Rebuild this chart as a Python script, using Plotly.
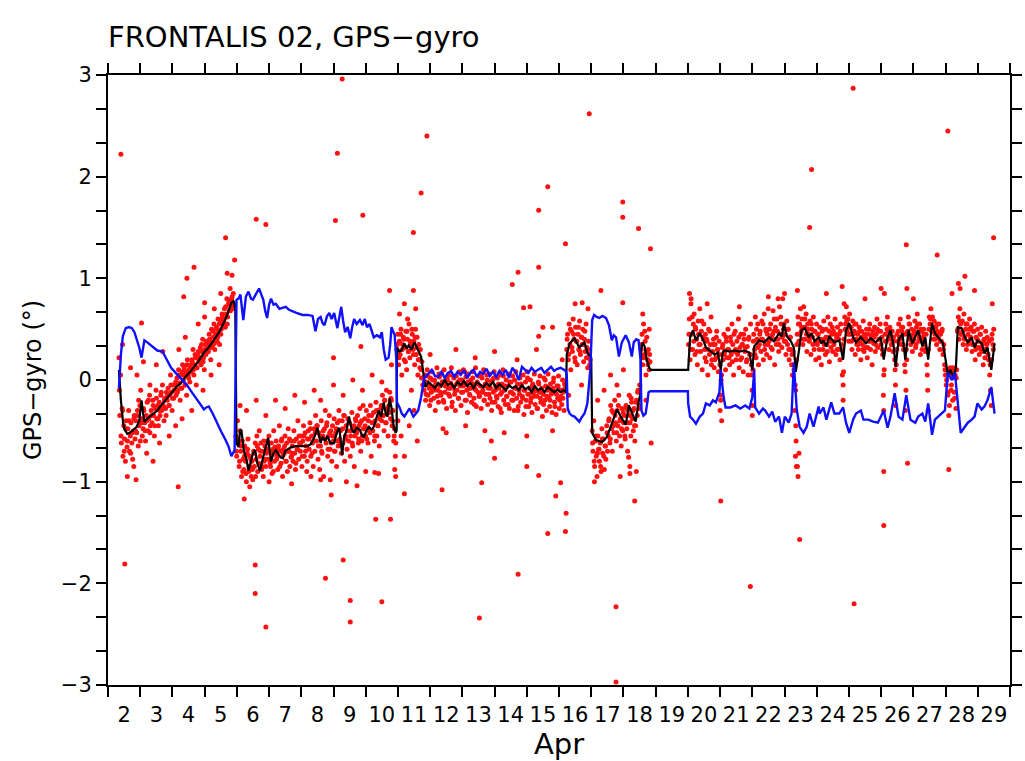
import numpy as np
import pandas as pd
import plotly.graph_objects as go

# ---------------- data (time in day-of-April, values in degrees) ----------------
black_t = [2.34, 2.40, 2.47, 2.52, 2.60, 2.67, 2.75, 2.89, 2.97, 3.04, 3.09, 3.13, 3.22, 3.29, 3.40, 3.53,
           3.65, 3.84, 3.95, 4.05, 4.15, 4.27, 4.40, 4.55, 4.67, 4.80, 4.98, 5.10, 5.28, 5.45, 5.59, 5.70,
           5.83, 5.90, 5.95,
           5.97, 5.99, 6.05, 6.10, 6.14, 6.22, 6.30, 6.36, 6.42, 6.50, 6.57, 6.62, 6.67, 6.72, 6.80, 6.88,
           6.97, 7.06, 7.14, 7.21, 7.28, 7.35, 7.43, 7.50, 7.58, 7.70, 7.83, 8.00, 8.20, 8.30, 8.41, 8.50,
           8.60, 8.66, 8.74, 8.81, 8.90, 9.02, 9.10, 9.18, 9.27, 9.33, 9.40, 9.48, 9.56, 9.64, 9.72, 9.82,
           9.88, 9.94, 10.02, 10.10, 10.18, 10.25, 10.33, 10.40, 10.48, 10.56, 10.62, 10.68, 10.74, 10.80,
           10.87, 10.93, 10.96,
           10.97, 11.04, 11.11, 11.20, 11.28, 11.33, 11.42, 11.51, 11.58, 11.63, 11.72, 11.78, 11.82,
           11.85, 11.95, 12.05, 12.15, 12.25, 12.35, 12.45, 12.55, 12.65, 12.75, 12.85, 12.95, 13.05, 13.15,
           13.25, 13.35, 13.45, 13.55, 13.65, 13.75, 13.85, 13.95, 14.05, 14.15, 14.25, 14.35, 14.45, 14.55,
           14.65, 14.75, 14.85, 14.95, 15.05, 15.15, 15.25, 15.35, 15.45, 15.55, 15.65, 15.75, 15.85, 15.95,
           16.05, 16.15, 16.22,
           16.24, 16.33, 16.48, 16.63, 16.79, 16.88, 17.00,
           17.03, 17.15, 17.34, 17.49, 17.64, 17.80, 17.92, 18.07, 18.17, 18.26, 18.38, 18.47, 18.53,
           18.55, 18.60, 18.66, 18.72, 18.80, 18.84, 20.00,
           20.01, 20.07, 20.16, 20.25, 20.37, 20.47, 20.56, 20.68, 20.83, 20.93, 21.02, 21.08, 21.14, 21.29,
           21.45, 21.60, 21.75, 21.91, 22.00, 22.06, 22.21, 22.37, 22.52, 22.67, 22.83, 22.92, 22.98, 23.07,
           23.20, 23.29, 23.35, 23.44, 23.53, 23.63, 23.75, 23.84, 23.93, 24.06, 24.15, 24.21, 24.30, 24.39,
           24.55, 24.70, 24.82, 24.91, 25.01, 25.13, 25.22, 25.37, 25.53, 25.68, 25.83, 25.99, 26.08, 26.20,
           26.29, 26.39, 26.45, 26.54, 26.66, 26.75, 26.85, 26.97, 27.06, 27.15, 27.28, 27.37, 27.46, 27.58,
           27.67, 27.77, 27.92, 28.00, 28.07, 28.15, 28.25, 28.32, 28.38, 28.50, 28.60, 28.69, 28.81, 28.90,
           28.99, 29.12, 29.21, 29.30, 29.42, 29.52]
black_v = [0.10, -0.20, -0.42, -0.49, -0.53, -0.52, -0.50, -0.46, -0.40, -0.20, -0.33, -0.41, -0.38, -0.36, -0.33, -0.30,
           -0.25, -0.18, -0.13, -0.10, -0.06, -0.03, 0.03, 0.08, 0.13, 0.18, 0.27, 0.31, 0.39, 0.47, 0.56, 0.64,
           0.76, 0.78, 0.70,
           -0.50, -0.62, -0.66, -0.50, -0.49, -0.70, -0.78, -0.89, -0.82, -0.72, -0.69, -0.80, -0.85, -0.89, -0.78, -0.69,
           -0.57, -0.80, -0.72, -0.69, -0.72, -0.76, -0.77, -0.70, -0.68, -0.66, -0.65, -0.65, -0.65, -0.63, -0.56, -0.47,
           -0.62, -0.56, -0.60, -0.55, -0.62, -0.62, -0.52, -0.47, -0.74, -0.56, -0.50, -0.36, -0.48, -0.52, -0.47, -0.49,
           -0.54, -0.56, -0.50, -0.46, -0.49, -0.46, -0.38, -0.30, -0.36, -0.22, -0.33, -0.36, -0.18, -0.27,
           -0.46, -0.52, -0.50,
           0.32, 0.28, 0.29, 0.36, 0.31, 0.34, 0.30, 0.37, 0.33, 0.29, 0.23, 0.08, -0.03,
           -0.07, -0.02, -0.05, -0.08, -0.03, -0.06, 0.00, -0.05, -0.03, -0.08, -0.02, -0.05, -0.01, -0.06,
           -0.03, -0.08, -0.02, -0.05, -0.07, -0.03, -0.06, -0.02, -0.08, -0.04, -0.07, -0.10, -0.05, -0.08,
           -0.06, -0.10, -0.05, -0.09, -0.07, -0.12, -0.06, -0.10, -0.08, -0.12, -0.07, -0.10, -0.12, -0.09,
           -0.12, -0.10, -0.12,
           0.25, 0.36, 0.41, 0.32, 0.37, 0.27, 0.22,
           -0.52, -0.59, -0.61, -0.56, -0.42, -0.29, -0.36, -0.44, -0.25, -0.32, -0.41, -0.22, -0.13,
           0.30, 0.37, 0.33, 0.20, 0.12, 0.10, 0.10,
           0.10, 0.42, 0.49, 0.39, 0.46, 0.40, 0.32, 0.29, 0.25, 0.27, 0.10, 0.27, 0.29, 0.28,
           0.29, 0.28, 0.29, 0.27, 0.10, 0.33, 0.39, 0.37, 0.42, 0.38, 0.46, 0.43, 0.56, 0.43,
           0.38, 0.32, 0.08, 0.27, 0.49, 0.51, 0.42, 0.46, 0.38, 0.42, 0.36, 0.39, 0.33, 0.43,
           0.37, 0.39, 0.20, 0.49, 0.56, 0.42, 0.37, 0.42, 0.36, 0.41, 0.37, 0.42, 0.20, 0.42,
           0.49, 0.33, 0.13, 0.39, 0.46, 0.20, 0.49, 0.36, 0.42, 0.49, 0.33, 0.42, 0.20, 0.56,
           0.46, 0.42, 0.36, 0.20, 0.05, 0.10, 0.02, 0.12, 0.52, 0.51, 0.42, 0.37, 0.42, 0.32,
           0.39, 0.36, 0.26, 0.32, 0.10, 0.36]

blue_t = [2.34, 2.40, 2.46, 2.55, 2.65, 2.74, 2.82, 2.89, 2.97, 3.04, 3.09, 3.13, 3.22, 3.35, 3.45, 3.53,
          3.69, 3.80, 3.96, 4.10, 4.21, 4.33, 4.45, 4.60, 4.73, 4.85, 4.98, 5.05, 5.13, 5.25, 5.37, 5.50,
          5.65, 5.75, 5.83, 5.93,
          5.99, 6.05, 6.11, 6.20, 6.28, 6.36, 6.44, 6.50, 6.60, 6.69, 6.76, 6.82, 6.88, 6.94, 7.00, 7.06,
          7.14, 7.21, 7.32, 7.43, 7.52, 7.62, 7.74, 7.85, 8.04, 8.20, 8.35, 8.44, 8.52, 8.60, 8.66, 8.72,
          8.80, 8.87, 8.94, 9.02, 9.12, 9.18, 9.24, 9.30, 9.36, 9.44, 9.52, 9.58, 9.64, 9.72, 9.82, 9.90,
          9.97, 10.04, 10.12, 10.25, 10.35, 10.44, 10.50, 10.56, 10.62, 10.71, 10.76, 10.80, 10.86, 10.90,
          10.95,
          10.97, 11.05, 11.12, 11.20, 11.28, 11.36, 11.42, 11.48, 11.56, 11.63, 11.72, 11.78, 11.82,
          11.85, 11.95, 12.05, 12.15, 12.25, 12.35, 12.45, 12.55, 12.65, 12.75, 12.85, 12.95, 13.05, 13.15,
          13.25, 13.35, 13.45, 13.55, 13.65, 13.75, 13.85, 13.95, 14.05, 14.15, 14.25, 14.35, 14.45, 14.55,
          14.65, 14.75, 14.85, 14.95, 15.05, 15.15, 15.25, 15.35, 15.45, 15.55, 15.65, 15.75, 15.85, 15.95,
          16.05, 16.15, 16.21,
          16.24, 16.27, 16.33, 16.40, 16.48, 16.56, 16.63, 16.70, 16.79, 16.84, 16.88, 16.93, 16.97,
          17.03, 17.09, 17.17, 17.25, 17.35, 17.46, 17.55, 17.64, 17.70, 17.77, 17.86, 17.95, 18.07, 18.17,
          18.26, 18.32, 18.40, 18.47, 18.53,
          18.56, 18.62, 18.69, 18.75, 18.78, 18.84, 20.00,
          20.01, 20.07, 20.16, 20.25, 20.37, 20.47, 20.56, 20.68, 20.78, 20.87, 20.98, 21.02, 21.11, 21.17,
          21.32, 21.48, 21.63, 21.78, 21.91, 22.00, 22.06, 22.09, 22.21, 22.33, 22.40, 22.52, 22.62, 22.71,
          22.83, 22.92, 23.01, 23.13, 23.22, 23.29, 23.38, 23.47, 23.59, 23.69, 23.78, 23.90, 24.06, 24.09,
          24.21, 24.30, 24.45, 24.55, 24.70, 24.82, 24.91, 25.01, 25.13, 25.22, 25.37, 25.45, 25.60, 25.75,
          25.90, 26.08, 26.20, 26.29, 26.42, 26.54, 26.66, 26.78, 26.91, 27.06, 27.15, 27.28, 27.37, 27.46,
          27.58, 27.67, 27.77, 27.87, 27.98, 28.07, 28.20, 28.29, 28.38, 28.47, 28.60, 28.69, 28.81, 28.90,
          28.99, 29.12, 29.21, 29.30, 29.42, 29.52]
blue_v = [-0.08, 0.25, 0.43, 0.51, 0.52, 0.51, 0.47, 0.41, 0.32, 0.22, 0.33, 0.39, 0.37, 0.34, 0.31, 0.29,
          0.28, 0.21, 0.12, 0.07, 0.03, -0.01, -0.05, -0.12, -0.18, -0.23, -0.29, -0.27, -0.26, -0.33, -0.42, -0.50,
          -0.59, -0.66, -0.75, -0.69,
          0.79, 0.80, 0.84, 0.59, 0.82, 0.87, 0.80, 0.79, 0.85, 0.90, 0.84, 0.79, 0.68, 0.61, 0.74, 0.80,
          0.74, 0.75, 0.70, 0.71, 0.72, 0.69, 0.67, 0.66, 0.64, 0.64, 0.63, 0.48, 0.60, 0.62, 0.56, 0.54,
          0.63, 0.66, 0.60, 0.66, 0.51, 0.62, 0.72, 0.58, 0.47, 0.52, 0.41, 0.52, 0.60, 0.55, 0.59, 0.54,
          0.60, 0.52, 0.55, 0.42, 0.44, 0.42, 0.47, 0.30, 0.20, 0.22, 0.35, 0.52, 0.48, 0.44,
          0.20,
          -0.22, -0.27, -0.33, -0.36, -0.32, -0.28, -0.32, -0.36, -0.33, -0.30, -0.17, -0.02, 0.03,
          0.03, 0.07, 0.10, 0.04, 0.03, 0.08, 0.02, 0.07, 0.09, 0.03, 0.08, 0.05, 0.10, 0.02,
          0.07, 0.10, 0.03, 0.08, 0.06, 0.11, 0.04, 0.08, 0.03, 0.09, 0.05, 0.10, 0.02, 0.12,
          0.08, 0.00, 0.13, 0.10, 0.07, 0.12, 0.08, 0.10, 0.12, 0.07, 0.10, 0.13, 0.09, 0.11,
          0.12, 0.10, 0.09,
          0.05, -0.28, -0.33, -0.35, -0.36, -0.39, -0.41, -0.37, -0.33, -0.28, -0.23, -0.05, 0.10,
          0.59, 0.64, 0.62, 0.61, 0.63, 0.61, 0.54, 0.39, 0.44, 0.42, 0.23, 0.37, 0.44, 0.37,
          0.23, 0.37, 0.40, 0.39, 0.20,
          -0.30, -0.35, -0.33, -0.20, -0.12, -0.11, -0.11,
          -0.23, -0.36, -0.39, -0.43, -0.36, -0.33, -0.23, -0.25, -0.20, -0.22, -0.12, 0.10, -0.17, -0.27,
          -0.27, -0.25, -0.28, -0.25, -0.28, -0.17, 0.10, -0.27, -0.33, -0.28, -0.30, -0.36, -0.31, -0.41,
          -0.36, -0.52, -0.36, -0.42, -0.33, 0.17, -0.29, -0.46, -0.52, -0.46, -0.33, -0.46, -0.26, -0.33,
          -0.27, -0.39, -0.22, -0.33, -0.33, -0.27, -0.42, -0.52, -0.39, -0.33, -0.30, -0.39, -0.39, -0.41,
          -0.42, -0.30, -0.47, -0.36, -0.13, -0.36, -0.39, -0.15, -0.39, -0.42, -0.36, -0.33, -0.41, -0.23,
          -0.54, -0.39, -0.36, -0.33, -0.30, 0.07, 0.00, 0.07, -0.26, -0.52, -0.46, -0.42, -0.39, -0.36,
          -0.23, -0.29, -0.26, -0.20, -0.07, -0.33]

# red samples: regularly sampled runs (start day, values every SAMPLE_STEP days)
SAMPLE_STEP = 0.025
red_run1_start = 2.34
red_run1 = [0.22, -0.35, 0.05, -0.62, -0.28, -0.75, -0.45, -0.58, -0.80, -0.40,
            -0.66, -0.48, -0.30, -0.70, -0.55, -0.42, -0.62, -0.78, -0.50, -0.35,
            -0.58, -0.40, -0.52, -0.30, -0.65, -0.45, -0.25, -0.10, -0.38, -0.55,
            -0.48, -0.30, -0.42, -0.60, -0.35, -0.22, -0.50, -0.38, -0.15, -0.45,
            -0.30, -0.42, -0.20, -0.35, -0.55, -0.28, -0.10, -0.38, -0.25, -0.45,
            -0.22, -0.35, -0.15, -0.30, -0.05, -0.25, -0.40, -0.18, -0.28, -0.12,
            -0.20, -0.08, -0.25, -0.15, 0.05, -0.12, -0.30, -0.05, -0.18, -0.10,
            -0.05, -0.15, 0.02, -0.10, 0.10, -0.03, -0.20, 0.05, -0.08, 0.15,
            0.00, 0.12, -0.05, 0.08, -0.15, 0.20, 0.05, 0.10, -0.02, 0.15,
            0.08, 0.18, 0.30, 0.05, 0.15, 0.22, -0.05, 0.12, 0.25, 0.18,
            0.20, 0.32, 0.15, 0.28, 0.40, 0.22, 0.10, 0.35, 0.25, 0.30,
            0.35, 0.28, 0.45, 0.38, 0.20, 0.50, 0.33, 0.42, 0.55, 0.30,
            0.45, 0.52, 0.38, 0.60, 0.48, 0.35, 0.58, 0.50, 0.65, 0.55,
            0.58, 0.70, 0.52, 0.65, 0.80, 0.62, 0.75, 0.68, 0.90, 0.72,
            0.80, 0.70, 0.85, 0.75]
red_run2_start = 5.97
red_run2 = [-0.55, -0.75, -0.40, -0.62, -0.85, -0.50, -0.70, -0.95, -0.60, -0.78,
            -0.88, -0.65, -0.80, -1.00, -0.72, -0.58, -0.90, -0.75, -0.85, -0.95,
            -0.80, -0.98, -0.70, -0.85, -0.62, -0.78, -0.55, -0.90, -0.68, -0.50,
            -0.75, -0.62, -0.88, -0.70, -0.95, -0.80, -0.65, -0.85, -0.72, -0.60,
            -0.78, -0.55, -0.70, -0.85, -0.62, -0.92, -0.68, -0.50, -0.80, -0.72,
            -0.60, -0.75, -0.88, -0.65, -0.45, -0.70, -0.82, -0.58, -0.95, -0.68,
            -0.72, -0.55, -0.80, -0.62, -0.90, -0.48, -0.70, -0.85, -0.60, -0.75,
            -0.65, -0.80, -0.50, -0.72, -0.88, -0.58, -0.68, -0.40, -0.78, -0.62,
            -0.70, -0.55, -0.85, -0.60, -0.45, -0.75, -0.52, -0.65, -0.90, -0.58,
            -0.50, -0.68, -0.42, -0.75, -0.55, -0.62, -0.85, -0.48, -0.70, -0.35,
            -0.60, -0.45, -0.78, -0.52, -0.88, -0.65, -0.40, -0.72, -0.55, -0.95,
            -0.48, -0.30, -0.62, -0.42, -0.75, -0.55, -0.35, -0.68, -0.50, -0.80,
            -0.45, -0.60, -0.38, -0.70, -0.52, -0.85, -0.42, -0.65, -0.30, -0.58,
            -0.50, -0.72, -0.40, -0.62, -0.35, -0.80, -0.55, -0.45, -0.68, -0.38,
            -0.60, -0.42, -0.75, -0.50, -0.32, -0.65, -0.48, -0.85, -0.55, -0.40,
            -0.52, -0.35, -0.62, -0.45, -0.28, -0.70, -0.40, -0.55, -0.25, -0.48,
            -0.38, -0.55, -0.30, -0.48, -0.62, -0.35, -0.50, -0.25, -0.75, -0.42,
            -0.50, -0.32, -0.60, -0.40, -0.22, -0.55, -0.45, -0.30, -0.65, -0.35,
            -0.28, -0.40, -0.15, -0.35, -0.50, -0.20, -0.42, -0.10, -0.30, -0.55,
            -0.25, -0.12, -0.38, -0.20, -0.45, -0.30, -0.60, -0.48, -0.75]
red_run3_start = 10.97
red_run3 = [0.30, 0.45, 0.15, 0.38, 0.25, 0.50, 0.05, 0.35, 0.42, 0.20,
            0.32, 0.48, 0.10, 0.40, 0.28, 0.55, 0.22, 0.35, -0.10, 0.45,
            0.30, 0.38, 0.15, 0.50, 0.25, 0.42, 0.05, 0.35, 0.20, 0.30,
            0.10, 0.18, -0.05]
red_run4_start = 11.81
red_run4 = [-0.10, 0.05, -0.20, -0.02, 0.10, -0.15, -0.05, -0.25, 0.02, -0.12,
            0.08, -0.08, -0.18, 0.00, -0.30, -0.05, 0.12, -0.10, -0.22, 0.03,
            -0.06, -0.15, 0.06, -0.02, -0.20, 0.10, -0.12, -0.04, -0.28, 0.00,
            -0.08, 0.05, -0.16, -0.03, 0.12, -0.22, -0.06, 0.02, -0.14, -0.30,
            0.04, -0.10, -0.02, -0.18, 0.08, -0.06, -0.25, 0.00, -0.12, 0.10,
            -0.05, -0.20, 0.03, -0.10, -0.32, 0.06, -0.08, -0.15, 0.00, -0.22,
            0.08, -0.04, -0.18, -0.08, 0.12, -0.26, -0.02, -0.12, 0.04, -0.16,
            -0.06, -0.28, 0.02, -0.10, 0.10, -0.20, -0.04, -0.14, 0.05, -0.24,
            -0.08, 0.06, -0.18, -0.02, -0.30, 0.00, -0.12, 0.08, -0.22, -0.06,
            -0.16, 0.02, -0.26, -0.08, 0.05, -0.14, -0.32, -0.04, 0.10, -0.20,
            -0.10, -0.24, 0.00, -0.16, -0.06, 0.06, -0.28, -0.12, -0.02, -0.20,
            0.04, -0.14, -0.30, -0.08, 0.08, -0.18, -0.04, -0.26, -0.10, 0.02,
            -0.22, -0.06, -0.16, 0.05, -0.34, -0.10, -0.02, -0.20, 0.08, -0.14,
            -0.26, -0.08, 0.00, -0.18, -0.32, -0.04, -0.12, 0.06, -0.24, -0.10,
            -0.16, -0.28, -0.02, -0.12, 0.04, -0.22, -0.08, -0.36, -0.14, 0.02,
            -0.20, -0.06, -0.30, -0.10, 0.06, -0.18, -0.26, -0.04, -0.14, -0.32,
            -0.08, 0.02, -0.22, -0.12, -0.34, -0.06, -0.18, 0.04, -0.28, -0.10,
            -0.16, -0.24, 0.00, -0.12, -0.30, -0.08]
red_run5_start = 16.24
red_run5 = [0.30, 0.45, 0.20, 0.55, 0.35, 0.10, 0.48, 0.28, 0.60, 0.40,
            0.22, 0.52, 0.38, 0.15, 0.45, 0.30, 0.58, 0.25, 0.42, 0.35,
            0.50, 0.18, 0.40, 0.28, 0.55, 0.32, 0.12, 0.38, 0.25, 0.20]
red_run6_start = 17.03
red_run6 = [-0.50, -0.70, -0.40, -0.85, -0.60, -0.75, -0.95, -0.55, -0.68, -0.80,
            -0.62, -0.90, -0.48, -0.72, -0.58, -0.88, -0.65, -0.78, -0.45, -0.70,
            -0.55, -0.38, -0.62, -0.25, -0.48, -0.70, -0.32, -0.52, -0.20, -0.42,
            -0.60, -0.30, -0.45, -0.15, -0.55, -0.38, -0.65, -0.28, -0.50, -0.42,
            -0.35, -0.58, -0.25, -0.48, -0.70, -0.30, -0.15, -0.42, -0.55, -0.22,
            -0.38, -0.50, -0.28, -0.60, -0.45, -0.20, -0.35, -0.10, -0.25, -0.05]
red_run7_start = 18.55
red_run7 = [0.30, 0.45, 0.15, 0.55, 0.25, 0.38, 0.05, 0.42, 0.20, 0.30, 0.10, 0.18]
red_run8_start = 20.02
red_run8 = [0.35, 0.60, 0.20, 0.75, 0.45, 0.30, 0.55, 0.65, 0.25, 0.50,
            0.40, 0.15, 0.58, 0.35, 0.70, 0.28, 0.48, 0.10, 0.42, 0.55,
            0.30, 0.45, 0.18, 0.38, 0.05, 0.50, 0.25, 0.35, 0.62, 0.20,
            0.28, 0.40, 0.12, 0.35, 0.22, 0.48, 0.30, 0.08, 0.38, 0.15,
            -0.15, 0.05, 0.32, 0.20, 0.45, 0.28, 0.10, 0.38, 0.22, 0.50,
            0.30, 0.15, 0.42, 0.25, 0.55, 0.35, 0.05, 0.28, 0.48, 0.20,
            0.38, 0.25, 0.60, 0.12, 0.32, 0.45, 0.22, 0.35, 0.08, 0.40,
            0.28, 0.50, 0.18, 0.33, 0.05, 0.42, 0.25, 0.55, 0.15, -0.10,
            0.10, 0.45, 0.30, 0.62, 0.22, 0.40, 0.55, 0.15, 0.35, 0.48,
            0.28, 0.58, 0.40, 0.20, 0.65, 0.35, 0.50, 0.25, 0.45, 0.70,
            0.38, 0.22, 0.55, 0.42, 0.30, 0.68, 0.48, 0.15, 0.52, 0.35,
            0.60, 0.40, 0.28, 0.72, 0.45, 0.55, 0.32, 0.80, 0.50, 0.38,
            0.45, 0.25, 0.58, 0.35, 0.50, 0.20, 0.42, 0.30, 0.15, 0.05,
            0.28, 0.10, -0.30, -0.10, 0.20, 0.45, 0.62, 0.38, 0.55, 0.70,
            0.48, 0.60, 0.35, 0.72, 0.52, 0.40, 0.65, 0.28, 0.55, 0.45,
            0.38, 0.58, 0.25, 0.50, 0.42, 0.62, 0.30, 0.48, 0.20, 0.55,
            0.35, 0.45, 0.22, 0.52, 0.38, 0.15, 0.48, 0.30, 0.58, 0.40,
            0.25, 0.50, 0.35, 0.62, 0.42, 0.18, 0.55, 0.32, 0.45, 0.28,
            0.48, 0.38, 0.60, 0.25, 0.42, 0.52, 0.30, 0.45, 0.20, 0.55,
            0.35, 0.05, -0.05, 0.40, 0.62, 0.55, 0.72, 0.48, 0.60, 0.38,
            0.65, 0.45, 0.52, 0.30, 0.58, 0.40, 0.48, 0.25, 0.55, 0.35,
            0.45, 0.30, 0.52, 0.38, 0.20, 0.48, 0.35, 0.58, 0.28, 0.42,
            0.32, 0.50, 0.22, 0.45, 0.38, 0.55, 0.30, 0.42, 0.15, 0.48,
            0.36, 0.52, 0.28, 0.45, 0.60, 0.32, 0.48, 0.40, 0.55, 0.35,
            0.42, 0.25, -0.15, 0.10, 0.45, 0.55, 0.38, 0.62, 0.48, 0.30,
            0.52, 0.40, 0.35, 0.48, 0.28, 0.38, 0.20, -0.05, 0.15, 0.45,
            0.38, 0.55, 0.42, 0.60, 0.35, 0.48, 0.52, 0.30, 0.45, 0.08,
            -0.10, 0.20, 0.48, 0.62, 0.55, 0.40, 0.35, 0.50, 0.28, 0.45,
            0.40, 0.58, 0.32, 0.52, 0.65, 0.45, 0.38, 0.55, 0.25, 0.48,
            0.30, 0.42, 0.50, 0.35, 0.28, 0.45, 0.15, -0.10, 0.30, 0.62,
            0.55, 0.70, 0.48, 0.62, 0.40, 0.58, 0.45, 0.52, 0.35, 0.48,
            0.42, 0.55, 0.30, 0.45, 0.38, 0.50, 0.25, 0.35, 0.15, 0.05,
            -0.05, 0.10, -0.15, 0.05, -0.25, 0.12, -0.10, 0.02, -0.20, 0.08,
            -0.12, 0.05, -0.28, 0.10, 0.48, 0.62, 0.40, 0.70, 0.55, 0.45,
            0.58, 0.35, 0.65, 0.42, 0.50, 0.30, 0.55, 0.45, 0.38, 0.60,
            0.40, 0.52, 0.28, 0.48, 0.35, 0.55, 0.20, 0.42, 0.32, 0.50,
            0.38, 0.25, 0.45, 0.30, 0.52, 0.35, 0.15, 0.40, 0.22, 0.48,
            0.30, 0.42, 0.25, 0.38, 0.05, -0.10, 0.20, 0.45, 0.35, 0.50]

# second, sparser pass of samples (every SAMPLE_STEP_B days)
SAMPLE_STEP_B = 0.05
red_pass_b = [
    (2.3525, [-0.10, -0.55, -0.30, -0.70, -0.48, -0.60, -0.40, -0.72, -0.52, -0.38,
              -0.50, -0.35, -0.20, -0.60, -0.42, -0.28, -0.50, -0.40, -0.20, -0.52,
              -0.35, -0.25, -0.45, -0.18, -0.38, -0.30, -0.12, -0.28, -0.20, -0.35,
              -0.15, -0.25, -0.05, -0.18, -0.10, -0.02, -0.12, 0.05, -0.08, 0.08,
              0.05, -0.05, 0.15, 0.02, 0.12, 0.20, 0.10, 0.25, 0.12, 0.28,
              0.22, 0.35, 0.18, 0.30, 0.38, 0.28, 0.40, 0.32, 0.48, 0.36,
              0.50, 0.42, 0.55, 0.45, 0.62, 0.60, 0.72, 0.55, 0.78, 0.68,
              0.82, 0.72]),
    (5.9825, [-0.70, -0.58, -0.80, -0.65, -0.90, -0.75, -0.92, -0.68, -0.85, -0.78,
              -0.88, -0.72, -0.95, -0.65, -0.82, -0.70, -0.85, -0.60, -0.78, -0.68,
              -0.62, -0.82, -0.72, -0.90, -0.66, -0.78, -0.68, -0.85, -0.60, -0.74,
              -0.65, -0.80, -0.70, -0.58, -0.76, -0.72, -0.60, -0.82, -0.68, -0.55,
              -0.62, -0.75, -0.55, -0.70, -0.80, -0.58, -0.48, -0.72, -0.60, -0.52,
              -0.45, -0.65, -0.55, -0.70, -0.50, -0.58, -0.45, -0.68, -0.52, -0.62,
              -0.55, -0.70, -0.48, -0.60, -0.40, -0.62, -0.48, -0.35, -0.58, -0.50,
              -0.42, -0.55, -0.62, -0.45, -0.38, -0.50, -0.58, -0.42, -0.60, -0.48,
              -0.45, -0.58, -0.40, -0.52, -0.35, -0.42, -0.55, -0.30, -0.45, -0.38,
              -0.25, -0.35, -0.20, -0.42, -0.28, -0.32, -0.18, -0.40, -0.55, -0.62]),
    (10.9825, [0.35, 0.22, 0.45, 0.30, 0.40, 0.18, 0.48, 0.28, 0.38, 0.50, 0.25, 0.42, 0.32, 0.20,
               0.12, 0.02]),
    (11.8225, [-0.02, -0.14, 0.04, -0.08, -0.20, 0.00, -0.10, -0.04, -0.16, 0.06,
               -0.12, -0.02, -0.22, -0.06, 0.02, -0.14, -0.08, -0.26, 0.04, -0.10,
               -0.04, -0.18, 0.00, -0.12, -0.06, 0.08, -0.20, -0.02, -0.14, -0.08,
               0.02, -0.24, -0.10, -0.04, -0.16, 0.04, -0.12, -0.20, -0.06, 0.00,
               -0.14, -0.08, -0.22, 0.02, -0.10, -0.18, -0.04, -0.28, -0.12, 0.04,
               -0.06, -0.16, -0.24, -0.02, -0.12, -0.20, 0.00, -0.08, -0.30, -0.14,
               -0.04, -0.18, -0.10, -0.26, 0.02, -0.14, -0.22, -0.06, -0.16, -0.10,
               -0.28, -0.04, -0.18, -0.12, -0.24, 0.00, -0.16, -0.08, -0.20, -0.12,
               -0.02, -0.26, -0.14, -0.06, -0.20, -0.10, -0.18, -0.04]),
    (16.2525, [0.40, 0.25, 0.50, 0.32, 0.45, 0.18, 0.38, 0.52, 0.28, 0.42, 0.35, 0.48, 0.22, 0.30,
               0.15]),
    (17.0425, [-0.62, -0.80, -0.55, -0.72, -0.68, -0.85, -0.58, -0.75, -0.65, -0.52,
               -0.40, -0.58, -0.30, -0.45, -0.35, -0.52, -0.25, -0.40, -0.48, -0.32,
               -0.55, -0.28, -0.42, -0.35, -0.18, -0.30, -0.45, -0.22, -0.12, -0.28]),
    (18.5625, [0.35, 0.22, 0.48, 0.28, 0.15, 0.25]),
    (20.0325, [0.45, 0.30, 0.62, 0.38, 0.52, 0.28, 0.45, 0.35, 0.58, 0.40,
               0.22, 0.40, 0.30, 0.48, 0.15, 0.35, 0.20, 0.42, 0.30, 0.25,
               0.00, 0.35, 0.25, 0.42, 0.30, 0.22, 0.38, 0.18, 0.45, 0.30,
               0.28, 0.42, 0.20, 0.35, 0.45, 0.32, 0.20, 0.40, 0.25, 0.05,
               0.38, 0.25, 0.50, 0.32, 0.45, 0.40, 0.55, 0.30, 0.48, 0.35,
               0.50, 0.32, 0.45, 0.60, 0.40, 0.48, 0.35, 0.62, 0.42, 0.55,
               0.38, 0.50, 0.30, 0.42, 0.25, 0.15, -0.05, 0.35, 0.55, 0.45,
               0.52, 0.40, 0.60, 0.45, 0.50, 0.42, 0.55, 0.35, 0.48, 0.38,
               0.45, 0.30, 0.40, 0.50, 0.35, 0.42, 0.28, 0.48, 0.38, 0.52,
               0.35, 0.45, 0.30, 0.40, 0.48, 0.30, 0.08, 0.50, 0.58, 0.45,
               0.52, 0.38, 0.45, 0.55, 0.40, 0.35, 0.48, 0.42, 0.30, 0.45,
               0.40, 0.32, 0.50, 0.38, 0.45, 0.42, 0.35, 0.50, 0.40, 0.48,
               0.30, 0.05, 0.38, 0.50, 0.42, 0.45, 0.35, 0.42, 0.10, 0.30,
               0.48, 0.40, 0.52, 0.35, 0.15, 0.30, 0.45, 0.55, 0.42, 0.38,
               0.48, 0.35, 0.55, 0.42, 0.50, 0.38, 0.45, 0.30, 0.05, 0.50,
               0.60, 0.48, 0.52, 0.40, 0.55, 0.45, 0.38, 0.48, 0.30, 0.10,
               0.00, -0.12, 0.08, -0.05, 0.12, -0.18, 0.02, 0.50, 0.58, 0.45,
               0.48, 0.40, 0.55, 0.35, 0.50, 0.42, 0.35, 0.48, 0.30, 0.40,
               0.32, 0.45, 0.28, 0.38, 0.30, 0.35, 0.20, 0.15, 0.40, 0.30]),
]

# individually placed red samples (looser scatter and outliers)
extra_t = [2.45, 2.70, 2.90, 3.10, 3.30, 3.50, 3.70, 3.20, 3.60, 3.90, 4.10, 4.30, 4.60, 4.40, 4.80, 4.20,
           5.00, 5.30, 5.50, 5.70, 5.20, 5.45, 4.95, 2.60, 2.80, 3.40,
           6.10, 6.30, 6.60, 6.90, 7.20, 7.50, 7.80, 8.10, 8.40, 8.60, 9.00, 9.30, 9.60, 9.90, 10.20, 10.50,
           10.80, 6.40, 7.00, 7.70, 8.30, 8.90, 9.40, 10.00, 10.40, 10.90, 10.93,
           11.00, 11.10, 11.20, 11.35, 11.50, 11.60, 11.05, 11.30, 11.55,
           12.00, 12.40, 12.80, 13.10, 13.40, 13.70, 14.00, 14.30, 14.70, 15.00, 15.30, 15.80, 16.10, 12.50, 13.90,
           16.30, 16.50, 16.70, 16.90,
           17.20, 17.40, 17.60, 17.80, 18.00, 18.20, 18.40, 17.90, 17.10,
           18.60, 18.70, 18.80,
           20.05, 20.10, 20.60, 21.00, 21.02, 22.00, 22.00, 22.80, 23.00, 23.35, 23.36, 23.34, 23.37, 23.40,
           24.82, 24.85, 26.08, 26.10, 26.45, 26.75, 26.80, 27.46, 27.00, 28.10, 28.20, 28.40, 28.45, 29.42,
           29.45, 25.50, 24.30, 21.60, 22.50]
extra_v = [0.35, 0.12, 0.05, 0.18, -0.05, 0.15, 0.28, -0.72, -0.62, -0.55, -0.45, -0.38, -0.30, 0.42, 0.55, 0.30,
           0.62, 0.70, 0.85, 1.05, 0.05, 0.15, -0.10, -0.95, -0.85, -0.80,
           -0.25, -0.30, -0.20, -0.35, -0.20, -0.28, -0.15, -0.22, -0.10, -0.20, -0.05, -0.15, 0.00, -0.10, 0.05, -0.02,
           0.15, -1.05, -1.00, -1.02, -0.95, -0.98, -1.00, -0.90, -0.92, -0.88, -0.95,
           -0.40, -0.55, -0.75, -0.45, -0.30, -0.60, 0.65, 0.60, 0.70,
           0.25, -0.48, 0.30, -0.45, 0.22, -0.50, 0.28, -0.52, 0.20, -0.55, 0.30, -0.50, 0.20, -0.52, -0.60,
           -0.15, 0.75, -0.05, 0.70,
           -0.20, -0.10, 0.05, -0.05, 0.10, -0.85, -0.90, -0.95, -1.00,
           0.65, -0.20, 0.50,
           0.85, 0.80, 0.75, -0.30, -0.20, -0.25, -0.35, 0.80, 0.85, -0.45, -0.60, -0.75, -0.85, 0.88,
           -0.20, 0.75, -0.30, 0.85, -0.25, -0.30, 0.90, -0.30, 0.80, -0.35, 0.85, 0.95, 0.90, -0.25,
           0.75, 0.80, 0.85, 0.72, 0.82]

outlier_t = [2.40, 9.27, 9.12, 6.60, 6.90, 9.06, 9.91, 11.48, 5.65, 5.93, 4.67, 4.45, 5.85, 4.35, 3.04,
             10.74, 11.48, 11.20, 5.00, 9.00, 9.85,
             11.90, 11.72, 16.94, 15.65, 15.37, 16.20, 14.73, 14.55, 15.37, 14.90, 15.10, 17.98, 17.98,
             18.47, 18.84, 17.30, 16.72, 17.98, 15.50, 15.80, 15.37,
             25.13, 28.07, 23.84, 23.78, 26.78, 29.49, 27.74, 28.60, 28.90, 24.79, 26.00,
             2.52, 2.87, 4.18, 6.23, 6.57, 6.57, 6.90, 8.75, 9.30, 9.52, 9.52, 10.50, 10.31, 10.77, 11.20,
             8.93, 9.73, 8.60, 10.28,
             12.37, 13.60, 13.53, 14.73, 14.00, 15.00, 15.37, 15.90, 16.05, 15.65, 16.22, 16.20, 17.77, 17.77,
             18.16, 18.20, 18.35, 18.86,
             21.02, 21.94, 23.47, 25.16, 26.08, 26.08, 26.82, 28.10, 23.45, 23.42, 23.40, 21.05]
outlier_v = [2.22, 2.96, 2.23, 1.58, 1.53, 1.57, 1.62, 1.45, 1.40, 1.18, 1.11, 1.00, 1.03, 0.82, 0.56,
             0.88, 0.88, 0.75, 0.76, 0.22, 0.33,
             2.40, 1.84, 2.62, 1.90, 1.67, 1.34, 1.06, 0.94, 1.11, 0.71, 0.72, 1.75, 1.60,
             1.49, 1.29, 0.88, 0.76, 0.76, 0.52, 0.52, 0.43,
             2.87, 2.45, 2.07, 1.50, 1.33, 1.40, 1.23, 1.02, 0.88, 0.92, 0.90,
             -1.81, -0.98, -1.05, -1.17, -1.82, -2.10, -2.43, -1.95, -1.77, -2.17, -2.38, -2.18, -1.37, -1.37, -1.12,
             -1.13, -1.04, -0.98, -0.91,
             -1.08, -1.01, -2.34, -1.91, -0.77, -0.85, -0.94, -1.14, -1.01, -1.51, -1.31, -1.49, -2.23, -2.97,
             -0.76, -0.92, -1.19, -0.62,
             -1.19, -2.03, -1.57, -2.20, -1.43, -0.90, -0.82, -0.88, -0.72, -0.95, -0.85, -0.40]

x_axis_title = "Apr"

# ---------------- helpers ----------------
BASE = pd.Timestamp("2010-04-01")


def to_date(days):
    return BASE + pd.to_timedelta(np.asarray(days, dtype=float) - 1.0, unit="D")


runs = [(red_run1_start, red_run1), (red_run2_start, red_run2), (red_run3_start, red_run3),
        (red_run4_start, red_run4), (red_run5_start, red_run5), (red_run6_start, red_run6),
        (red_run7_start, red_run7), (red_run8_start, red_run8)]
red_t, red_v = [], []
for start, vals in runs:
    red_t.extend(start + SAMPLE_STEP * np.arange(len(vals)))
    red_v.extend(vals)
for start, vals in red_pass_b:
    red_t.extend(start + SAMPLE_STEP_B * np.arange(len(vals)))
    red_v.extend(vals)
red_t.extend(extra_t)
red_v.extend(extra_v)
red_t.extend(outlier_t)
red_v.extend(outlier_v)

FONT = "DejaVu Sans"

fig = go.Figure()
fig.add_trace(go.Scatter(x=to_date(red_t), y=red_v, mode="markers",
                         marker=dict(color="#ff1010", size=5, line=dict(width=0)),
                         hoverinfo="skip"))
fig.add_trace(go.Scatter(x=to_date(black_t), y=black_v, mode="lines",
                         line=dict(color="black", width=2.2), hoverinfo="skip"))
fig.add_trace(go.Scatter(x=to_date(blue_t), y=blue_v, mode="lines",
                         line=dict(color="#1010ff", width=2.4), hoverinfo="skip"))

# y ticks every third of a degree, labels on integers
y_steps = [-3 + k / 3 for k in range(19)]
y_text = []
for v in y_steps:
    r = round(v)
    if abs(v - r) < 1e-6:
        y_text.append(("−" + str(abs(r))) if r < 0 else str(r))
    else:
        y_text.append("")

fig.update_layout(
    width=1025, height=761,
    margin=dict(l=108, r=3, t=75, b=76),
    paper_bgcolor="white", plot_bgcolor="white",
    showlegend=False,
    font=dict(family=FONT, color="black"),
    title=dict(text="FRONTALIS 02, GPS−gyro", font=dict(family=FONT, size=29, color="black"),
               x=108 / 1025, xanchor="left", xref="container",
               y=1 - 37 / 761, yanchor="middle", yref="container"),
    xaxis=dict(type="date", range=[to_date([2.0])[0], to_date([30.0])[0]],
               tick0=to_date([2.0])[0], dtick=86400000, tickformat="%-d", ticklabelmode="period",
               ticks="outside", ticklen=10, tickwidth=1.5, tickcolor="black",
               showline=True, linewidth=2, linecolor="black", mirror="allticks",
               showgrid=False, zeroline=False,
               tickfont=dict(family=FONT, size=21, color="black"),
               title=dict(text=x_axis_title, font=dict(family=FONT, size=29, color="black"),
                          standoff=6)),
    yaxis=dict(range=[-3, 3], tickmode="array", tickvals=y_steps, ticktext=y_text,
               ticks="outside", ticklen=10, tickwidth=1.5, tickcolor="black",
               showline=True, linewidth=2, linecolor="black", mirror="allticks",
               showgrid=False, zeroline=False,
               tickfont=dict(family=FONT, size=21, color="black"),
               title=dict(text="GPS−gyro (°)", font=dict(family=FONT, size=24, color="black"),
                          standoff=12)),
)

fig.write_html("out.html")
